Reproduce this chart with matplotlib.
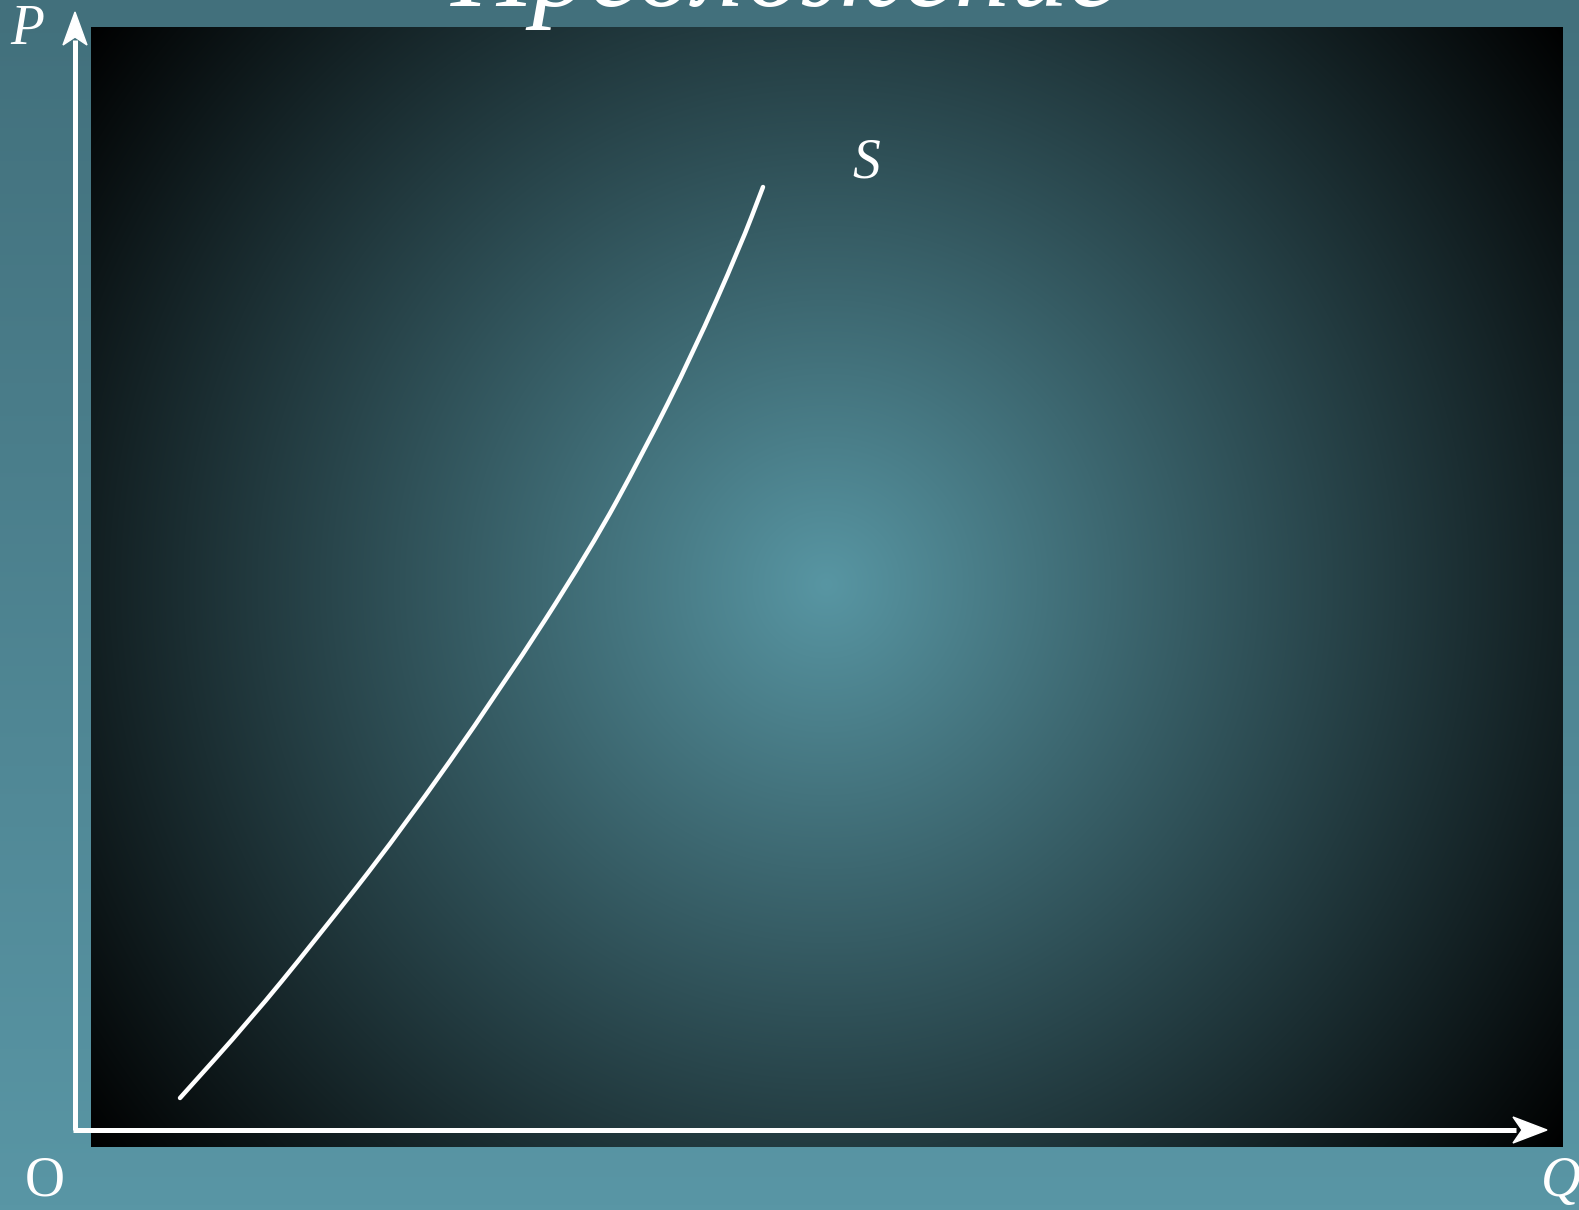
import numpy as np
import matplotlib
matplotlib.use("Agg")
import matplotlib.pyplot as plt
from matplotlib.patches import Polygon, PathPatch
from matplotlib.path import Path

plt.rcParams['font.family'] = ['Liberation Serif', 'DejaVu Serif']

# supply curve S (Q, P in pixel-like units from origin O)
q_vals = [105, 175, 238, 325, 425, 515, 568, 618, 665, 688]
p_vals = [32, 110, 187, 298, 440, 580, 677, 777, 883, 943]

title = "Предложение"
curve_label = "S"
x_label = "Q"
y_label = "P"
origin_label = "O"

W, H = 1579, 1210
ox, oy = 75, 1130  # origin in pixels

fig = plt.figure(figsize=(W / 100, H / 100), dpi=100)
ax = fig.add_axes([0, 0, 1, 1])
ax.set_xlim(-ox, W - ox)
ax.set_ylim(oy - H, oy)
ax.axis('off')

# outer linear background
top = np.array([66, 112, 124]) / 255
bot = np.array([89, 150, 165]) / 255
t = np.linspace(0, 1, 256)[:, None]
grad = top[None, :] * (1 - t) + bot[None, :] * t
ax.imshow(grad[:, None, :], extent=(-ox, W - ox, oy - H, oy), aspect='auto', zorder=0)

# inner radial panel
x0, x1, y0, y1 = 91, 1563, 27, 1147
cx, cy = 826, 584
xs = np.arange(x0, x1)
ys = np.arange(y0, y1)
X, Y = np.meshgrid(xs, ys)
R = np.hypot(X - cx, Y - cy)
Rmax = np.hypot(max(cx - x0, x1 - cx), max(cy - y0, y1 - cy))
f = np.clip(1 - R / Rmax, 0, 1)[..., None]
center = np.array([88, 150, 163]) / 255
img = f * center[None, None, :]
ax.imshow(img, extent=(x0 - ox, x1 - ox, oy - y1, oy - y0), aspect='auto', zorder=1)

# axes lines with arrows
ax.plot([0, 0], [0, oy - 40], color='white', lw=3.6, solid_capstyle='butt', zorder=3)
ax.plot([-2, 1516 - ox], [0, 0], color='white', lw=3.6, solid_capstyle='butt', zorder=3)
ax.add_patch(Polygon([[0, oy - 12], [-12, oy - 45], [0, oy - 37], [12, oy - 45]],
                     closed=True, color='white', zorder=4))
ax.add_patch(Polygon([[1547 - ox, 0], [1513 - ox, 13], [1522 - ox, 0], [1513 - ox, -13]],
                     closed=True, color='white', zorder=4))

# supply curve, drawn as a smooth path through the read points
pts = np.column_stack([q_vals, p_vals]).astype(float)
verts = [pts[0], (pts[0] + pts[1]) / 2]
codes = [Path.MOVETO, Path.LINETO]
for i in range(1, len(pts) - 1):
    verts += [pts[i], (pts[i] + pts[i + 1]) / 2]
    codes += [Path.CURVE3, Path.CURVE3]
verts.append(pts[-1])
codes.append(Path.LINETO)
ax.add_patch(PathPatch(Path(verts, codes), facecolor='none', edgecolor='white',
                       lw=3.2, capstyle='round', joinstyle='round', zorder=5))

# labels
ax.text(852 - ox, oy - 178, curve_label, color='white', fontsize=40, style='italic',
        ha='left', va='baseline', zorder=6)
ax.text(10 - ox, oy - 44, y_label, color='white', fontsize=40, style='italic',
        ha='left', va='baseline', zorder=6)
ax.text(25 - ox, oy - 1196, origin_label, color='white', fontsize=40,
        ha='left', va='baseline', zorder=6)
ax.text(1541 - ox, oy - 1196, x_label, color='white', fontsize=40, style='italic',
        ha='left', va='baseline', zorder=6)
ax.text(785 - ox, oy - 6, title, color='white', fontsize=82, style='italic',
        ha='center', va='baseline', zorder=6)

fig.savefig("out.png", dpi=100)
